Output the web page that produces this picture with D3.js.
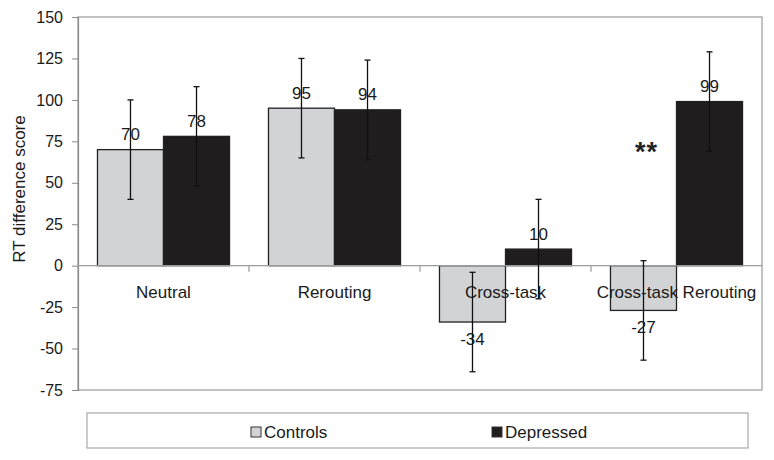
<!DOCTYPE html>
<html>
<head>
<meta charset="utf-8">
<script src="https://cdn.jsdelivr.net/npm/d3@7"></script>
<style>
  html, body { margin: 0; padding: 0; background: #fff; }
  svg { display: block; font-family: "Liberation Sans", Arial, sans-serif; }
</style>
</head>
<body>
<svg id="chart" width="774" height="460"></svg>
<script>
const categories = ["Neutral", "Rerouting", "Cross-task", "Cross-task Rerouting"];
const seriesNames = ["Controls", "Depressed"];
const controls = [70, 95, -34, -27];
const depressed = [78, 94, 10, 99];
const controlsErr = [30, 30, 30, 30];
const depressedErr = [30, 30, 30, 30];
const yTicks = [150, 125, 100, 75, 50, 25, 0, -25, -50, -75];
const yTitle = "RT difference score";
const annotation = { text: "**", category: "Cross-task Rerouting", series: "Controls", value: 72 };

const colors = { Controls: "#d2d3d5", Depressed: "#1f1d1e" };
const textColor = "#1a1a1a";
const fmt = d => String(d);

const svg = d3.select("#chart");
const plot = { left: 78, right: 762, top: 17, bottom: 390 };

const x = d3.scaleBand().domain(categories).range([plot.left, plot.right]).padding(0);
const xs = d3.scaleBand().domain(seriesNames).range([0, x.bandwidth()])
  .paddingInner(0).paddingOuter(0.295);
const y = d3.scaleLinear().domain([-75, 150]).range([plot.bottom, plot.top]);

const data = [];
categories.forEach((c, i) => {
  data.push({ cat: c, series: "Controls", v: controls[i], e: controlsErr[i] });
  data.push({ cat: c, series: "Depressed", v: depressed[i], e: depressedErr[i] });
});

// plot frame
svg.append("rect")
  .attr("x", plot.left).attr("y", plot.top)
  .attr("width", plot.right - plot.left).attr("height", plot.bottom - plot.top)
  .attr("fill", "none").attr("stroke", "#9a9a9a").attr("stroke-width", 1.2);

// y axis
const yAxis = d3.axisLeft(y).tickValues(yTicks).tickSize(6).tickPadding(9)
  .tickFormat(fmt);
const gy = svg.append("g").attr("transform", `translate(${plot.left},0)`).call(yAxis);
gy.select(".domain").attr("stroke", "#8a8a8a").attr("stroke-width", 1.2);
gy.selectAll(".tick line").attr("stroke", "#8a8a8a");
gy.selectAll(".tick text").attr("fill", textColor).style("font-size", "16px")
  .style("font-family", "'Liberation Sans', Arial, sans-serif");

// y title
svg.append("text")
  .attr("transform", `translate(25,189) rotate(-90)`)
  .attr("text-anchor", "middle")
  .attr("fill", textColor)
  .style("font-size", "17px")
  .text(yTitle);

// bars
svg.append("g").selectAll("rect").data(data).join("rect")
  .attr("x", d => x(d.cat) + xs(d.series))
  .attr("width", xs.bandwidth())
  .attr("y", d => y(Math.max(0, d.v)))
  .attr("height", d => Math.abs(y(d.v) - y(0)))
  .attr("fill", d => colors[d.series])
  .attr("stroke", "#222")
  .attr("stroke-width", 1.3);

// zero line with category ticks
svg.append("line")
  .attr("x1", plot.left).attr("x2", plot.right)
  .attr("y1", y(0)).attr("y2", y(0))
  .attr("stroke", "#9a9a9a").attr("stroke-width", 1.2);
const boundaries = categories.map(c => x(c)).concat([x(categories[categories.length - 1]) + x.bandwidth()]);
svg.append("g").selectAll("line").data(boundaries.slice(1, -1)).join("line")
  .attr("x1", d => d).attr("x2", d => d)
  .attr("y1", y(0)).attr("y2", y(0) + 6)
  .attr("stroke", "#9a9a9a").attr("stroke-width", 1.2);

// error bars
const eg = svg.append("g").attr("stroke", "#111").attr("stroke-width", 1.3);
data.forEach(d => {
  const cx = x(d.cat) + xs(d.series) + xs.bandwidth() / 2;
  const y1 = y(d.v + d.e), y2 = y(d.v - d.e);
  eg.append("line").attr("x1", cx).attr("x2", cx).attr("y1", y1).attr("y2", y2);
  eg.append("line").attr("x1", cx - 3).attr("x2", cx + 3).attr("y1", y1).attr("y2", y1);
  eg.append("line").attr("x1", cx - 3).attr("x2", cx + 3).attr("y1", y2).attr("y2", y2);
});

// category labels
svg.append("g").selectAll("text").data(categories).join("text")
  .attr("x", d => x(d) + x.bandwidth() / 2)
  .attr("y", y(0) + 27)
  .attr("text-anchor", "middle")
  .attr("dominant-baseline", "central")
  .attr("fill", textColor)
  .style("font-size", "17px")
  .text(d => d);

// value labels
svg.append("g").selectAll("text").data(data).join("text")
  .attr("x", d => x(d.cat) + xs(d.series) + xs.bandwidth() / 2)
  .attr("y", d => d.v >= 0 ? y(d.v) - 15 : y(d.v) + 17)
  .attr("text-anchor", "middle")
  .attr("dominant-baseline", "central")
  .attr("fill", textColor)
  .style("font-size", "17px")
  .text(d => fmt(d.v));

// significance annotation
svg.append("text")
  .attr("x", x(annotation.category) + xs(annotation.series) + xs.bandwidth() / 2 + 3)
  .attr("y", y(annotation.value) + 15)
  .attr("text-anchor", "middle")
  .attr("fill", "#222")
  .style("font-size", "27px")
  .style("font-weight", "bold")
  .style("letter-spacing", "1px")
  .text(annotation.text);

// legend
const legend = svg.append("g");
legend.append("rect")
  .attr("x", 87).attr("y", 413).attr("width", 661).attr("height", 35)
  .attr("fill", "#fff").attr("stroke", "#a8a8a8").attr("stroke-width", 1.2);
const legendX = { Controls: 251, Depressed: 492 };
seriesNames.forEach(s => {
  legend.append("rect")
    .attr("x", legendX[s]).attr("y", 427).attr("width", 10).attr("height", 10)
    .attr("fill", colors[s]).attr("stroke", "#333").attr("stroke-width", 1);
  legend.append("text")
    .attr("x", legendX[s] + 13).attr("y", 432)
    .attr("dominant-baseline", "central")
    .attr("fill", textColor)
    .style("font-size", "17px")
    .text(s);
});
</script>
</body>
</html>
